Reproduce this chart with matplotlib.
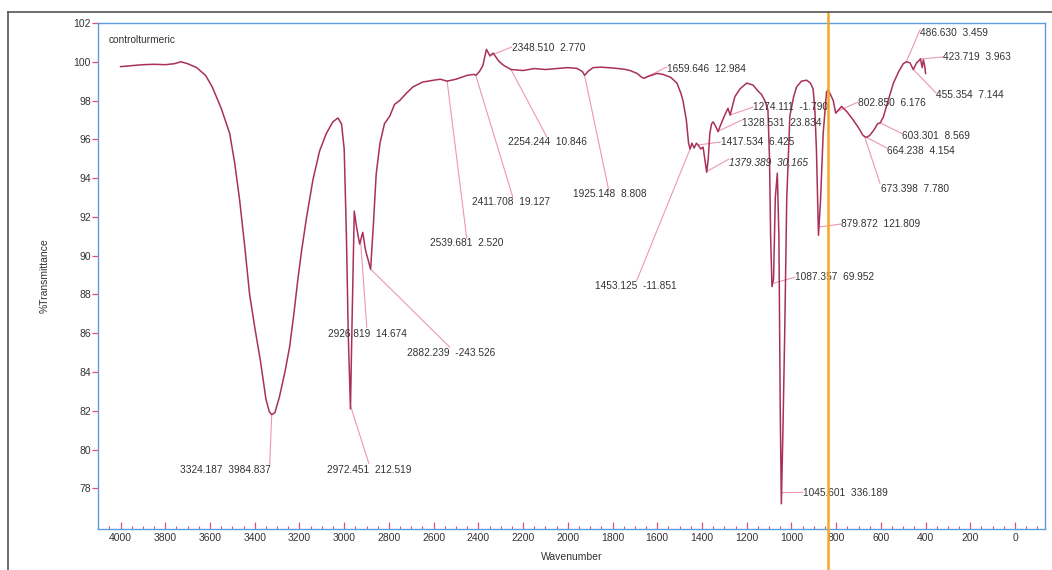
import matplotlib
matplotlib.use("Agg")
import matplotlib.pyplot as plt
import numpy as np
from matplotlib.lines import Line2D
from matplotlib.transforms import blended_transform_factory

plt.rcParams['font.family'] = ['Liberation Sans', 'DejaVu Sans']

# ---- spectrum data (wavenumber, %T) ----
wavenumber = [4000, 3950, 3900, 3850, 3800, 3760, 3730, 3700, 3660, 3620, 3590, 3550, 3512, 3490,
              3468, 3445, 3423, 3400, 3375, 3350, 3335, 3324, 3310, 3290, 3265, 3244, 3225, 3208,
              3190, 3168, 3140, 3110, 3080, 3051, 3028, 3012, 3000, 2990, 2982, 2972, 2965, 2955,
              2945, 2931, 2917, 2905, 2882, 2870, 2857, 2840, 2820, 2796, 2775, 2752, 2720, 2693,
              2650, 2600, 2570, 2540, 2500, 2450, 2420, 2411, 2395, 2380, 2364, 2348, 2334, 2310,
              2289, 2254, 2200, 2150, 2100, 2050, 2000, 1960, 1935, 1925, 1910, 1887, 1850, 1800,
              1750, 1722, 1690, 1670, 1659, 1640, 1600, 1575, 1540, 1512, 1495, 1485, 1470, 1460,
              1453, 1445, 1435, 1425, 1417, 1405, 1395, 1385, 1379, 1372, 1365, 1357, 1350, 1340,
              1328, 1318, 1300, 1284, 1274, 1264, 1253, 1230, 1200, 1172, 1150, 1133, 1115, 1105,
              1098, 1093, 1087, 1080, 1072, 1063, 1056, 1050, 1045, 1038, 1030, 1021, 1007, 990,
              977, 955, 932, 915, 903, 895, 888, 882, 879, 870, 858, 843, 835, 825, 813, 802, 790,
              776, 750, 724, 700, 680, 673, 664, 650, 630, 615, 603, 589, 570, 544, 520, 500, 486,
              470, 455, 440, 430, 423, 415, 410, 404, 400]
transmittance = [99.75, 99.8, 99.85, 99.87, 99.85, 99.9, 100.0, 99.9, 99.7, 99.3, 98.7, 97.6, 96.3, 94.8,
                 92.9, 90.5, 88.0, 86.3, 84.6, 82.6, 81.95, 81.8, 81.9, 82.7, 84.0, 85.3, 87.0, 88.7,
                 90.3, 92.0, 93.9, 95.4, 96.3, 96.9, 97.1, 96.8, 95.5, 91.0, 86.0, 82.1, 86.5, 92.3,
                 91.5, 90.6, 91.2, 90.3, 89.3, 91.5, 94.2, 95.8, 96.8, 97.2, 97.8, 98.0, 98.4, 98.7,
                 98.95, 99.05, 99.1, 99.0, 99.1, 99.3, 99.35, 99.3, 99.5, 99.8, 100.64, 100.3, 100.45, 100.05,
                 99.83, 99.6, 99.55, 99.65, 99.6, 99.65, 99.7, 99.66, 99.5, 99.3, 99.5, 99.7, 99.72, 99.68,
                 99.62, 99.55, 99.4, 99.2, 99.15, 99.25, 99.4, 99.35, 99.2, 98.9, 98.4, 98.0, 97.0, 95.8,
                 95.5, 95.8, 95.55, 95.8, 95.7, 95.5, 95.6, 94.8, 94.3, 95.0, 96.3, 96.8, 96.9, 96.7,
                 96.4, 96.7, 97.2, 97.6, 97.25, 97.7, 98.2, 98.6, 98.9, 98.8, 98.5, 98.3, 97.9, 97.5,
                 95.0, 91.0, 88.4, 88.8, 93.0, 94.25, 91.0, 82.0, 77.2, 81.0, 86.0, 92.9, 97.2, 98.2,
                 98.7, 99.0, 99.05, 98.9, 98.6, 97.5, 95.4, 92.5, 91.05, 92.8, 96.3, 98.45, 98.55, 98.3, 98.0, 97.35, 97.5,
                 97.7, 97.4, 97.0, 96.6, 96.2, 96.15, 96.1, 96.2, 96.5, 96.8, 96.85, 97.15, 97.9, 98.9, 99.5, 99.9, 100.0,
                 99.95, 99.6, 99.95, 100.05, 100.15, 99.7, 100.1, 99.8, 99.4]

# ---- peak labels ----
peak_labels = ["3324.187  3984.837", "2972.451  212.519", "2926.819  14.674", "2882.239  -243.526",
               "2539.681  2.520", "2411.708  19.127", "2348.510  2.770", "2254.244  10.846",
               "1925.148  8.808", "1659.646  12.984", "1453.125  -11.851", "1417.534  6.425",
               "1379.389  30.165", "1328.531  23.834", "1274.111  -1.790", "1087.357  69.952",
               "1045.601  336.189", "879.872  121.809", "802.850  6.176", "603.301  8.569",
               "664.238  4.154", "673.398  7.780", "486.630  3.459", "423.719  3.963", "455.354  7.144"]
peak_wn = [float(s.split()[0]) for s in peak_labels]
# label text positions (data units) and leader end points
text_x = [3736, 3078, 3074, 2720, 2617, 2430, 2251, 2268, 1978, 1557, 1879, 1315, 1280, 1221, 1172,
          984, 949, 779, 702, 506, 573, 600, 425, 322, 353]
text_y = [78.93, 78.93, 85.95, 84.97, 90.65, 92.76, 100.71, 95.86, 93.17, 99.63, 88.43, 95.86, 94.77,
          96.84, 97.66, 88.89, 77.74, 91.63, 97.87, 96.17, 95.39, 93.43, 101.48, 100.25, 98.28]
lead_x = [3333, 2890, 2899, 2528, 2452, 2246, 2251, 2094, 1817, 1557, 1691, 1318, 1280, 1221, 1172,
          984, 949, 779, 702, 506, 573, 604, 425, 322, 353]
lead_y = [79.24, 79.29, 86.31, 85.28, 90.9, 93.02, 100.76, 96.12, 93.38, 99.73, 88.74, 95.86, 94.98,
          97.0, 97.66, 88.89, 77.79, 91.63, 97.92, 96.3, 95.55, 93.74, 101.64, 100.25, 98.39]
italic_labels = ["1379.389  30.165"]

sample_name = "controlturmeric"
marker_wn = 837

x_ticks = list(range(0, 4001, 200))
y_ticks = list(range(78, 103, 2))

curve_color = '#a8305a'
lead_color = '#ec98ae'
tick_color = '#e8506e'
spine_color = '#5b9be0'
text_color = '#333333'

fig = plt.figure(figsize=(10.52, 5.70), dpi=100)
ax = fig.add_axes([98/1052, 1 - 529/570, (1045-98)/1052, (529-23)/570])

wn = np.array(wavenumber, dtype=float)
tr = np.array(transmittance, dtype=float)
ax.plot(wn, tr, color=curve_color, lw=1.1, zorder=3)

order = np.argsort(wn)
for lab, pw, tx, ty, lx, ly in zip(peak_labels, peak_wn, text_x, text_y, lead_x, lead_y):
    py = np.interp(pw, wn[order], tr[order])
    ax.plot([pw, lx], [py, ly], color=lead_color, lw=0.8, zorder=2)
    ax.text(tx, ty, lab, fontsize=7.3, color=text_color, ha='left', va='center',
            style='italic' if lab in italic_labels else 'normal', zorder=4)

ax.text(4054, 101.12, sample_name, fontsize=7.3, color=text_color, ha='left', va='center')

ax.set_xlim(4101, -134)
ax.set_ylim(75.9, 102)
ax.set_xticks(x_ticks)
ax.set_xticks(list(range(-100, 4101, 50)), minor=True)
ax.set_yticks(y_ticks)
ax.tick_params(axis='x', which='major', direction='in', length=5, width=0.9, color=tick_color,
               labelsize=7.5, labelcolor=text_color, pad=3)
ax.tick_params(axis='x', which='minor', direction='in', length=2.5, width=0.8, color=tick_color)
ax.tick_params(axis='y', which='major', direction='out', length=4, width=0.9, color=tick_color,
               labelsize=7.5, labelcolor=text_color, pad=1)
for sp in ax.spines.values():
    sp.set_color(spine_color)
    sp.set_linewidth(1.0)

ax.set_xlabel("Wavenumber", fontsize=7.5, color=text_color, labelpad=6)
ax.set_ylabel("%Transmittance", fontsize=7.5, color=text_color, labelpad=17)

# orange marker line spanning the whole figure height below the frame
trans = blended_transform_factory(ax.transData, fig.transFigure)
ax.plot([marker_wn, marker_wn], [0, 1 - 12/570], color='#f5a623', lw=1.8, transform=trans,
        clip_on=False, zorder=5)

# gray outer frame (top and left)
fig.add_artist(Line2D([8/1052, 1], [1 - 12/570, 1 - 12/570], color='#555555', lw=1.2))
fig.add_artist(Line2D([8/1052, 8/1052], [0, 1 - 12/570], color='#555555', lw=1.2))

fig.savefig("out.png", dpi=100)
